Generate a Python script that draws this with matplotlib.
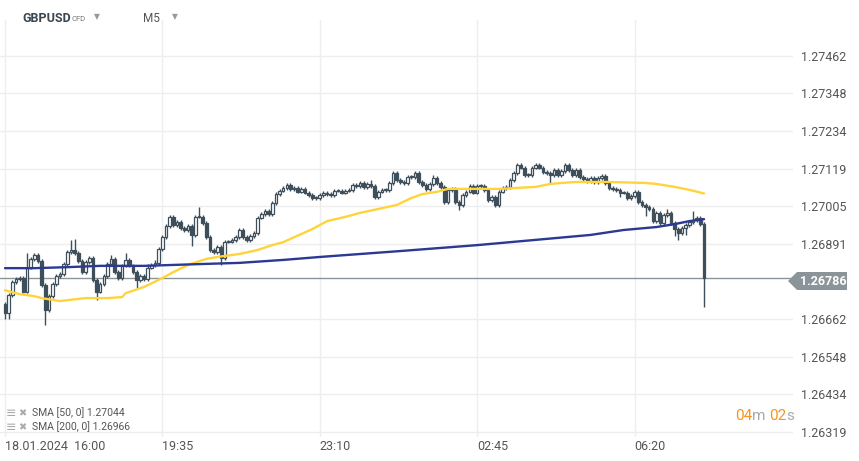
import matplotlib.pyplot as plt
from matplotlib.patches import Rectangle, Polygon

plt.rcParams['font.family'] = ['Roboto', 'DejaVu Sans']

# GBPUSD M5 closes, 18.01.2024 16:00 -> 19.01.2024 07:55 (one per bar)
closes = [
    1.26681, 1.26735, 1.26775, 1.26784, 1.26787, 1.26745, 1.26818, 1.26845, 1.26857, 1.26839,
    1.26766, 1.26690, 1.26732, 1.26769, 1.26793, 1.26799, 1.26830, 1.26866, 1.26872, 1.26863,
    1.26839, 1.26805, 1.26836, 1.26848, 1.26781, 1.26745, 1.26769, 1.26793, 1.26830, 1.26845,
    1.26805, 1.26787, 1.26824, 1.26842, 1.26824, 1.26805, 1.26781, 1.26793, 1.26784, 1.26818,
    1.26827, 1.26833, 1.26875, 1.26912, 1.26945, 1.26973, 1.26948, 1.26957, 1.26939, 1.26933,
    1.26945, 1.26918, 1.26973, 1.26973, 1.26954, 1.26912, 1.26872, 1.26866, 1.26881, 1.26848,
    1.26897, 1.26897, 1.26903, 1.26912, 1.26933, 1.26912, 1.26903, 1.26915, 1.26924, 1.26970,
    1.26982, 1.26991, 1.26982, 1.27015, 1.27042, 1.27052, 1.27061, 1.27070, 1.27058, 1.27061,
    1.27049, 1.27058, 1.27046, 1.27039, 1.27030, 1.27030, 1.27039, 1.27046, 1.27042, 1.27039,
    1.27052, 1.27052, 1.27046, 1.27052, 1.27055, 1.27070, 1.27067, 1.27076, 1.27064, 1.27073,
    1.27067, 1.27033, 1.27049, 1.27055, 1.27055, 1.27076, 1.27106, 1.27085, 1.27079, 1.27076,
    1.27094, 1.27094, 1.27106, 1.27079, 1.27070, 1.27058, 1.27073, 1.27091, 1.27076, 1.27064,
    1.27018, 1.27055, 1.27058, 1.27018, 1.27009, 1.27039, 1.27049, 1.27067, 1.27046, 1.27067,
    1.27067, 1.27055, 1.27024, 1.27033, 1.27009, 1.27049, 1.27061, 1.27064, 1.27085, 1.27106,
    1.27131, 1.27122, 1.27100, 1.27100, 1.27122, 1.27131, 1.27122, 1.27109, 1.27106, 1.27100,
    1.27115, 1.27100, 1.27112, 1.27131, 1.27115, 1.27100, 1.27115, 1.27094, 1.27088, 1.27082,
    1.27091, 1.27079, 1.27091, 1.27097, 1.27076, 1.27061, 1.27058, 1.27055, 1.27046, 1.27046,
    1.27030, 1.27036, 1.27049, 1.27018, 1.27009, 1.27003, 1.26997, 1.26960, 1.26985, 1.26954,
    1.26979, 1.26985, 1.26954, 1.26936, 1.26924, 1.26939, 1.26948, 1.26957, 1.26963, 1.26970,
    1.26951, 1.26786,
]
first_open = 1.26708

# long wicks (bar index -> price)
wick_highs = {6: 1.26863, 18: 1.26903, 19: 1.26906, 29: 1.26857, 33: 1.26863,
              39: 1.26830, 41: 1.26842, 45: 1.26979, 53: 1.27003, 100: 1.27085,
              112: 1.27112, 117: 1.27100, 181: 1.26997, 188: 1.26991}
wick_lows = {0: 1.26663, 1: 1.26663, 11: 1.26644, 25: 1.26720, 36: 1.26757,
             51: 1.26884, 59: 1.26827, 124: 1.26994, 149: 1.27076, 168: 1.27033,
             175: 1.26976, 183: 1.26915, 184: 1.26903, 186: 1.26918, 191: 1.26699}

sma50_bars = [0, 4, 8, 10, 15, 22, 28, 32, 33, 38, 43, 46, 50, 55, 58, 64, 69, 73,
              76, 84, 88, 93, 97, 102, 107, 111, 114, 118, 121, 127, 135, 140, 145,
              149, 152, 156, 165, 175, 178, 183, 187, 191]
sma50_vals = [1.26750, 1.26738, 1.26732, 1.26726, 1.26717, 1.26726, 1.26726, 1.26729,
              1.26741, 1.26760, 1.26787, 1.26805, 1.26827, 1.26845, 1.26851, 1.26860,
              1.26872, 1.26887, 1.26896, 1.26936, 1.26960, 1.26973, 1.26985, 1.26997,
              1.27009, 1.27030, 1.27042, 1.27049, 1.27058, 1.27058, 1.27058, 1.27061,
              1.27064, 1.27073, 1.27076, 1.27079, 1.27079, 1.27076, 1.27073, 1.27064,
              1.27055, 1.27044]

sma200_bars = [0, 8, 17, 26, 38, 55, 64, 76, 86, 108, 129, 151, 160, 169, 178, 183, 187, 191]
sma200_vals = [1.26817, 1.26817, 1.26820, 1.26824, 1.26824, 1.26830, 1.26833, 1.26842,
               1.26851, 1.26869, 1.26887, 1.26909, 1.26918, 1.26933, 1.26942, 1.26951,
               1.26960, 1.26966]

price_ticks = [1.26319, 1.26434, 1.26548, 1.26662, 1.26891, 1.27005,
               1.27119, 1.27234, 1.27348, 1.27462]
time_ticks = [0, 43, 86, 129, 172]
time_labels = ["18.01.2024  16:00", "19:35", "23:10", "02:45", "06:20"]
last_price = 1.26786

candle_col = "#3e4f5b"
W, H = 859, 461

fig = plt.figure(figsize=(W / 100, H / 100), dpi=100)
ax = fig.add_axes([0, 1 - 437 / H, 793 / W, 417 / H])

for i, c in enumerate(closes):
    o = closes[i - 1] if i > 0 else first_open
    top, bot = max(o, c), min(o, c)
    hi = wick_highs.get(i, top + 0.00005)
    lo = wick_lows.get(i, bot - 0.00005)
    ax.vlines(i, lo, hi, color=candle_col, lw=1.0, zorder=3)
    face = "white" if c >= o else candle_col
    ax.add_patch(Rectangle((i - 0.36, bot), 0.72, max(top - bot, 0.00002),
                           facecolor=face, edgecolor=candle_col, lw=0.9, zorder=4))

ax.plot(sma50_bars, sma50_vals, color="#ffd43b", lw=1.7, zorder=5,
        solid_capstyle="round")
ax.plot(sma200_bars, sma200_vals, color="#2b3894", lw=1.7, zorder=5,
        solid_capstyle="round")
ax.axhline(last_price, color="#8b9599", lw=1, zorder=2)

ax.set_xlim(-1.37, 215.3)
ax.set_ylim(1.263037, 1.275714)
ax.set_yticks(price_ticks)
ax.set_yticklabels([f"{p:.5f}" for p in price_ticks])
ax.yaxis.tick_right()
ax.set_xticks(time_ticks)
ax.set_xticklabels(time_labels, ha="left")
ax.tick_params(axis="y", length=0, pad=6, labelsize=9, labelcolor="#555555")
ax.tick_params(axis="x", length=0, pad=2, labelsize=9, labelcolor="#555555")
ax.grid(color="#eeeeee", lw=1, zorder=0)
for s in ax.spines.values():
    s.set_visible(False)


# current price tag
def fx(x):
    return x / W


def fy(y):
    return 1 - y / H


tag = [(788, 281), (797, 272), (847, 272), (847, 290), (797, 290)]
fig.patches.append(Polygon([(fx(x), fy(y)) for x, y in tag], closed=True,
                           transform=fig.transFigure, facecolor="#8b9599",
                           edgecolor="none"))
fig.text(fx(800), fy(281), f"{last_price:.5f}", color="white", fontsize=9,
         fontweight="bold", va="center", ha="left")

# header
fig.text(fx(22), fy(18), "GBPUSD", fontsize=9, fontweight="bold",
         color="#3a4650", va="center")
fig.text(fx(71), fy(19), "CFD", fontsize=5.5, color="#777777", va="center")
fig.text(fx(97), fy(17), "▼", fontsize=5.5, color="#999999", va="center",
         ha="center", family="DejaVu Sans")
fig.text(fx(143), fy(18), "M5", fontsize=8.5, color="#555555", va="center")
fig.text(fx(175), fy(17), "▼", fontsize=5.5, color="#999999", va="center",
         ha="center", family="DejaVu Sans")

# indicator legend
for y, txt in [(413, "SMA [50, 0] 1.27044"), (427, "SMA [200, 0] 1.26966")]:
    fig.text(fx(6), fy(y), "≡", fontsize=9, color="#aaaaaa", va="center",
             family="DejaVu Sans")
    fig.text(fx(18), fy(y), "✖", fontsize=7, color="#aaaaaa", va="center",
             family="DejaVu Sans")
    fig.text(fx(32), fy(y), txt, fontsize=7.5, color="#555555", va="center")

# candle countdown
x0 = 735
for part, col in [("04", "#f7931e"), ("m ", "#aaaaaa"), ("02", "#f7931e"), ("s", "#aaaaaa")]:
    t = fig.text(fx(x0), fy(416), part, fontsize=11, color=col, va="center")
    fig.canvas.draw()
    x0 += t.get_window_extent().width

fig.savefig("out.png", dpi=100)
